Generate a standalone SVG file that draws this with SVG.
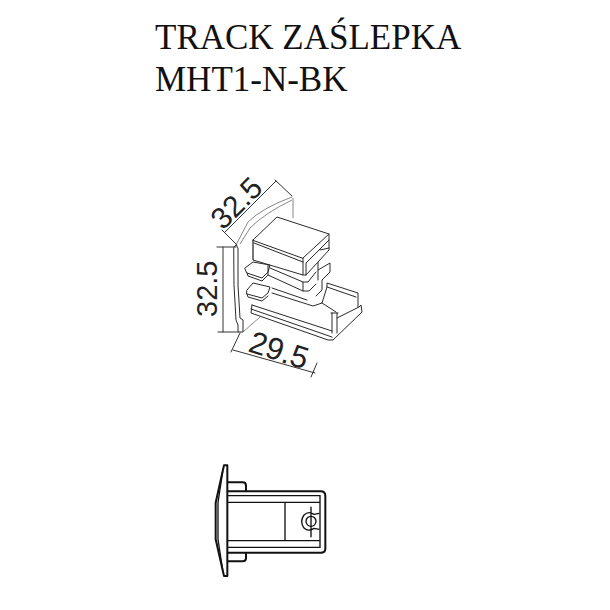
<svg xmlns="http://www.w3.org/2000/svg" width="610" height="610" viewBox="0 0 610 610">
<style>
.t{font-family:"Liberation Serif","Times New Roman",serif;font-size:35px;fill:#111}
.d{font-family:"Liberation Sans",Arial,sans-serif;fill:#222}
.l{fill:none;stroke:#2a2a2a;stroke-width:1;stroke-linejoin:round;stroke-linecap:round}
.m{fill:none;stroke:#333;stroke-width:1;stroke-linecap:round}
.g{fill:none;stroke:#888;stroke-width:1}
.b{fill:none;stroke:#111;stroke-width:6;stroke-linejoin:round}
.c{fill:none;stroke:#111;stroke-width:4}
</style>
<rect width="610" height="610" fill="#fff"/>
<text class="t" x="155" y="49">TRACK ZAŚLEPKA</text>
<text class="t" x="155" y="91">MHT1-N-BK</text>
<g id="isometric-view">
<path class="g" d="M292 197Q262 208 248 222L236 245M292 200Q265 213 250 228L240 244M293 198V218M253 240V260M243 332L260 317"/>
<path class="l" d="M234 247L236 245L238 248L238 285L240 318L243 320L243 332H238V325L236 320L234 285Z"/>
<path class="l" d="M253 240L277 217L329 234L303 258ZM253 240V260L303 275V258M254 243L303 262M329 234V250L318 262V280M329 240L306 263V275M320 250L329 248M303 275L306 275L318 262"/>
<path class="l" d="M268 265V275L303 291H309L316 284M270 268L303 282V291M303 282H308L316 272M318 270L330 263V272L322 280V290L316 296"/>
<path class="l" d="M245 268L253 262L270 265L268 272L262 278L247 273ZM247 273L248 276L262 281L268 275"/>
<path class="l" d="M247 290L253 283L270 287L268 293L262 298L247 294ZM247 294L248 297L262 301L268 296"/>
<path class="l" d="M272 288L307 300M272 293L313 306L322 303L327 287V283L358 293V307M327 287L356 297M322 303L336 312"/>
<path class="l" d="M252 305L332 331M251 309L332 337M252 305L251 313L328 340H333L362 312L361 305L359 307L337 318M332 313V333M337 313V333M331 313H338"/>
</g>
<g id="connectors">
<path class="m" d="M225 232L276 181M222 230L237 245M275 180L292 196M223 247V332M217 247H236M218 332H238M233 350L315 373M240 333L231 352M317 363L311 377"/>
</g>
<g id="labels">
<text class="d" font-size="30" transform="translate(223 231) rotate(-45)">32.5</text>
<text class="d" font-size="29" transform="translate(217 317) rotate(-90)">32.5</text>
<text class="d" font-size="31" transform="translate(247 351) rotate(18)">29.5</text>
</g>
<g id="top-view" transform="translate(200 460) scale(.33333)">
<path class="b" d="M82 16H72L47 128V238L72 348H82Z"/>
<path class="c" d="M68 35L54 128V238L68 330"/>
<path class="b" d="M82 67H128Q138 67 138 77V94M82 304H128Q138 304 138 294V278"/>
<path class="b" d="M82 94H362Q376 94 376 108V266Q376 278 362 278H82"/>
<path class="c" d="M82 107H360V262H82M82 127H360M82 242H360M255 127V242"/>
<circle class="c" cx="333" cy="184" r="15"/>
<path class="c" d="M333 140V232M358 160L342 163Q325 152 312 165Q298 184 312 204Q325 216 342 205L358 208"/>
</g>
</svg>
